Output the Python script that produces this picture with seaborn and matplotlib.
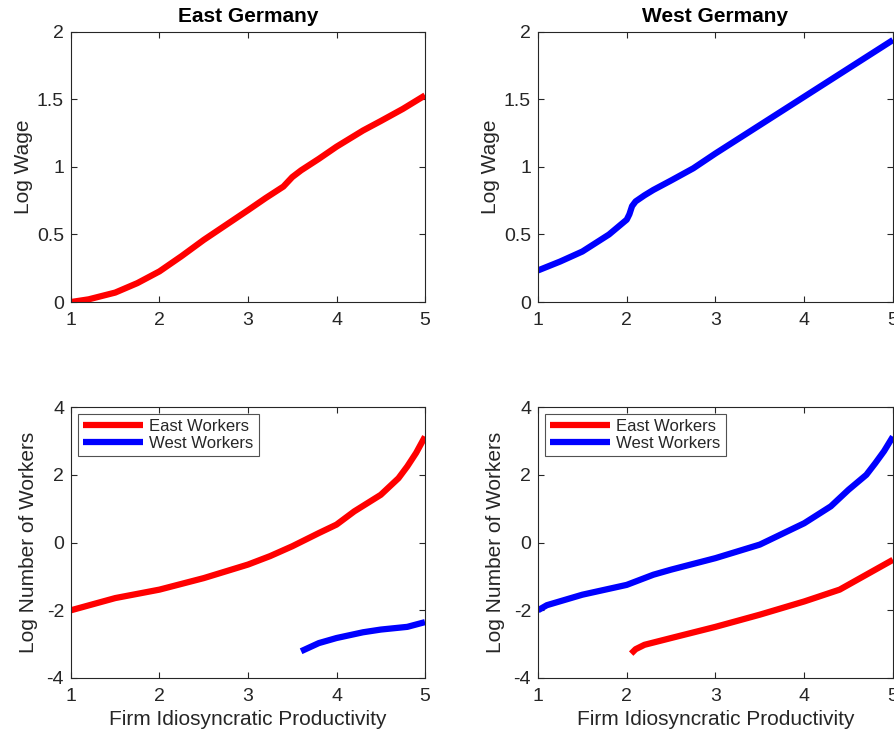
import matplotlib
matplotlib.use("Agg")
import matplotlib.pyplot as plt
import seaborn as sns

# Productivity grid and log wage, East Germany
east_wage_x = [1.0, 1.2, 1.5, 1.75, 2.0, 2.25, 2.5, 2.75, 3.0, 3.2, 3.4, 3.45, 3.5, 3.6, 3.8, 4.0, 4.3, 4.5, 4.75, 5.0]
east_wage_y = [0.0, 0.02, 0.07, 0.14, 0.227, 0.34, 0.46, 0.57, 0.68, 0.77, 0.855, 0.89, 0.925, 0.975, 1.06, 1.15, 1.27, 1.34, 1.43, 1.53]

# Log wage, West Germany
west_wage_x = [1.0, 1.25, 1.5, 1.8, 2.0, 2.03, 2.06, 2.1, 2.2, 2.3, 2.5, 2.75, 3.0, 3.5, 4.0, 4.5, 5.0]
west_wage_y = [0.234, 0.30, 0.374, 0.50, 0.61, 0.65, 0.71, 0.745, 0.79, 0.83, 0.90, 0.99, 1.10, 1.31, 1.52, 1.73, 1.94]

# Log number of workers at East German firms
east_firm_east_x = [1.0, 1.5, 2.0, 2.5, 3.0, 3.25, 3.5, 3.8, 4.0, 4.2, 4.5, 4.7, 4.8, 4.9, 5.0]
east_firm_east_y = [-2.0, -1.64, -1.39, -1.05, -0.65, -0.40, -0.11, 0.28, 0.53, 0.92, 1.41, 1.90, 2.25, 2.65, 3.13]
east_firm_west_x = [3.6, 3.8, 4.0, 4.3, 4.5, 4.8, 5.0]
east_firm_west_y = [-3.21, -2.97, -2.82, -2.65, -2.57, -2.49, -2.35]

# Log number of workers at West German firms
west_firm_west_x = [1.0, 1.1, 1.5, 2.0, 2.3, 2.5, 3.0, 3.5, 4.0, 4.3, 4.5, 4.7, 4.8, 4.9, 5.0]
west_firm_west_y = [-2.0, -1.85, -1.54, -1.25, -0.95, -0.80, -0.46, -0.06, 0.57, 1.07, 1.56, 2.00, 2.34, 2.70, 3.13]
west_firm_east_x = [2.05, 2.1, 2.2, 2.5, 3.0, 3.5, 4.0, 4.4, 4.7, 5.0]
west_firm_east_y = [-3.28, -3.15, -3.02, -2.82, -2.49, -2.13, -1.74, -1.39, -0.95, -0.51]

x_ticks = [1, 2, 3, 4, 5]
wage_ticks = [0, 0.5, 1, 1.5, 2]
wage_tick_labels = ["0", "0.5", "1", "1.5", "2"]
count_ticks = [-4, -2, 0, 2, 4]
count_tick_labels = ["-4", "-2", "0", "2", "4"]

sns.set_style("ticks")
plt.rcParams["font.family"] = ["Liberation Sans", "DejaVu Sans"]
plt.rcParams["axes.edgecolor"] = "#262626"
plt.rcParams["xtick.color"] = "#262626"
plt.rcParams["ytick.color"] = "#262626"
plt.rcParams["axes.labelcolor"] = "#262626"

fig = plt.figure(figsize=(8.94, 7.32), dpi=100)
ax_tl = fig.add_axes([0.0794, 0.5874, 0.396, 0.369])
ax_tr = fig.add_axes([0.6018, 0.5874, 0.397, 0.369])
ax_bl = fig.add_axes([0.0794, 0.0738, 0.396, 0.370])
ax_br = fig.add_axes([0.6018, 0.0738, 0.397, 0.370])

LW = 4.5

sns.lineplot(x=east_wage_x, y=east_wage_y, ax=ax_tl, color="#ff0000", linewidth=LW, sort=False)
sns.lineplot(x=west_wage_x, y=west_wage_y, ax=ax_tr, color="#0000ff", linewidth=LW, sort=False)

sns.lineplot(x=east_firm_east_x, y=east_firm_east_y, ax=ax_bl, color="#ff0000", linewidth=LW,
             sort=False, label="East Workers")
sns.lineplot(x=east_firm_west_x, y=east_firm_west_y, ax=ax_bl, color="#0000ff", linewidth=LW,
             sort=False, label="West Workers")

sns.lineplot(x=west_firm_east_x, y=west_firm_east_y, ax=ax_br, color="#ff0000", linewidth=LW,
             sort=False, label="East Workers")
sns.lineplot(x=west_firm_west_x, y=west_firm_west_y, ax=ax_br, color="#0000ff", linewidth=LW,
             sort=False, label="West Workers")

for ax in (ax_tl, ax_tr, ax_bl, ax_br):
    ax.set_xlim(1, 5)
    ax.set_xticks(x_ticks)
    ax.set_xticklabels([str(t) for t in x_ticks])
    ax.tick_params(direction="in", top=True, right=True, length=4, width=0.8,
                   labelsize=14, pad=5)
    ax.tick_params(axis="x", pad=7)
    for s in ax.spines.values():
        s.set_linewidth(0.8)
        s.set_visible(True)
    for ln in ax.get_lines():
        ln.set_solid_capstyle("butt")

for ax, title in ((ax_tl, "East Germany"), (ax_tr, "West Germany")):
    ax.set_ylim(0, 2)
    ax.set_yticks(wage_ticks)
    ax.set_yticklabels(wage_tick_labels)
    ax.set_ylabel("Log Wage", fontsize=15, labelpad=3)
    ax.set_title(title, fontsize=15, fontweight="bold", color="black", pad=7)

for ax in (ax_bl, ax_br):
    ax.set_ylim(-4, 4)
    ax.set_yticks(count_ticks)
    ax.set_yticklabels(count_tick_labels)
    ax.set_ylabel("Log Number of Workers", fontsize=15, labelpad=6)
    ax.set_xlabel("Firm Idiosyncratic Productivity", fontsize=15, labelpad=4)
    leg = ax.legend(loc="upper left", fontsize=12, frameon=True, fancybox=False,
                    handlelength=3.6, borderpad=0.3, labelspacing=0.12,
                    handletextpad=0.4, borderaxespad=0.4)
    leg.get_frame().set_edgecolor("#262626")
    leg.get_frame().set_linewidth(0.8)
    for h in leg.get_lines():
        h.set_linewidth(LW)

fig.savefig("out.png", dpi=100)
